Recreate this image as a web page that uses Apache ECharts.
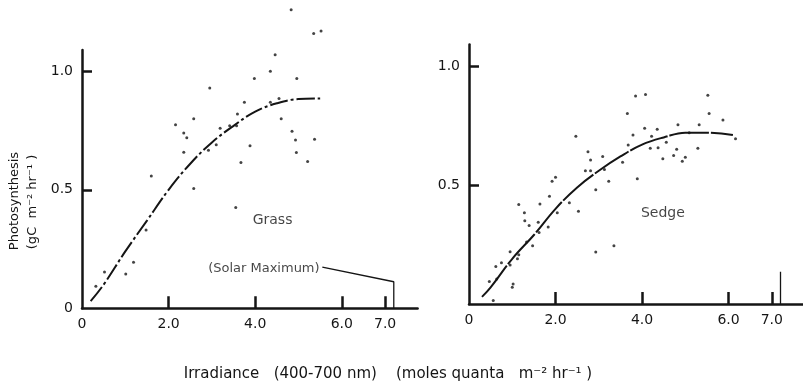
<!DOCTYPE html>
<html>
<head>
<meta charset="utf-8">
<script src="https://cdn.jsdelivr.net/npm/echarts@6/dist/echarts.min.js"></script>
<style>
  html, body { margin: 0; background: #fff; }
  #chart { width: 803px; height: 385px; }
</style>
</head>
<body>
<div id="chart"></div>
<script>
// tick labels
const xLabelValues = [0, 2, 4, 6, 7]
const xTickValues = [2, 4, 6, 7]
const grassYLabels = [0, 0.5, 1.0]
const sedgeYLabels = [0.5, 1.0]
const yTickValues = [0.5, 1.0]
const solarMax = 7.2

// fitted curves
const grassCurve = [
  [0.2, 0.03], [0.5, 0.10], [1.0, 0.24], [1.5, 0.37], [2.0, 0.50], [2.5, 0.61],
  [3.0, 0.70], [3.5, 0.77], [4.0, 0.83], [4.5, 0.865], [5.0, 0.883], [5.5, 0.885]
]
const sedgeCurve = [
  [0.3, 0.03], [0.5, 0.07], [1.0, 0.19], [1.5, 0.29], [2.0, 0.40], [2.5, 0.49],
  [3.0, 0.56], [3.5, 0.62], [4.0, 0.67], [4.5, 0.70], [5.0, 0.72], [5.5, 0.72], [6.1, 0.71]
]

// observations
const grassPoints = [
  [4.83, 1.26], [5.35, 1.16], [5.52, 1.17], [4.46, 1.07], [4.35, 1.00], [3.98, 0.97],
  [4.96, 0.97], [2.95, 0.93], [3.75, 0.87], [4.35, 0.87], [4.55, 0.885], [2.58, 0.80],
  [3.59, 0.82], [4.60, 0.80], [2.16, 0.775], [3.19, 0.76], [3.41, 0.77], [3.57, 0.77],
  [2.35, 0.74], [2.42, 0.72], [4.85, 0.747], [4.93, 0.71], [5.37, 0.713], [3.10, 0.69],
  [3.88, 0.686], [2.92, 0.667], [2.35, 0.658], [4.95, 0.657], [3.67, 0.615], [5.21, 0.619],
  [1.60, 0.558], [2.58, 0.506], [3.55, 0.425], [1.48, 0.33], [1.19, 0.194], [1.01, 0.145],
  [0.52, 0.153], [0.32, 0.093]
]
const sedgePoints = [
  [3.85, 0.874], [4.08, 0.88], [5.52, 0.877], [3.66, 0.80], [5.55, 0.80], [5.87, 0.773],
  [2.47, 0.705], [4.06, 0.738], [4.35, 0.734], [4.83, 0.753], [5.32, 0.753], [3.79, 0.71],
  [4.22, 0.705], [5.09, 0.72], [3.68, 0.668], [4.19, 0.654], [4.37, 0.657], [4.56, 0.68],
  [4.80, 0.65], [5.29, 0.654], [6.16, 0.694], [2.75, 0.64], [2.81, 0.605], [3.09, 0.62],
  [3.55, 0.596], [4.48, 0.61], [4.73, 0.624], [4.93, 0.60], [5.00, 0.617], [2.69, 0.56],
  [2.81, 0.56], [3.13, 0.565], [2.93, 0.48], [3.23, 0.516], [3.89, 0.526], [2.53, 0.39],
  [2.32, 0.425], [1.92, 0.516], [2.00, 0.533], [1.86, 0.453], [2.04, 0.383], [1.15, 0.418],
  [1.28, 0.383], [1.29, 0.35], [1.39, 0.33], [1.64, 0.42], [1.60, 0.344], [1.62, 0.30],
  [1.83, 0.324], [1.33, 0.26], [1.47, 0.245], [1.15, 0.207], [0.95, 0.22], [1.12, 0.19],
  [0.95, 0.164], [0.75, 0.173], [0.62, 0.158], [0.64, 0.105], [1.02, 0.084], [1.00, 0.07],
  [0.47, 0.095], [0.56, 0.015], [2.93, 0.219], [3.35, 0.245]
]

// solar maximum marker
const grassSolarLine = [[5.55, 0.174], [solarMax, 0.112], [solarMax, 0]]
const sedgeSolarLine = [[solarMax, 0.135], [solarMax, 0]]
const grassNotes = [[4.4, 0.37, 'Grass'], [4.2, 0.168, '(Solar Maximum)']]
const sedgeNotes = [[4.48, 0.38, 'Sedge']]

const FONT = 'DejaVu Sans'
const INK = '#151515'

function xAxis(gridIndex, max) {
  return {
    type: 'value', gridIndex, min: 0, max,
    splitLine: { show: false },
    axisLine: { onZero: false, lineStyle: { color: INK, width: 2.5 } },
    axisTick: { inside: true, length: 12, customValues: xTickValues, lineStyle: { color: INK, width: 2.5 } },
    axisLabel: {
      customValues: xLabelValues, margin: 9, color: INK, fontFamily: FONT, fontSize: 14,
      formatter: v => v === 0 ? '0' : v.toFixed(1)
    }
  }
}

function yAxis(gridIndex, labels) {
  return {
    type: 'value', gridIndex, min: 0, max: 1.09,
    splitLine: { show: false },
    axisLine: { onZero: false, lineStyle: { color: INK, width: 2.5 } },
    axisTick: { inside: true, length: 10, customValues: yTickValues, lineStyle: { color: INK, width: 2.5 } },
    axisLabel: {
      customValues: labels, margin: 9, color: INK, fontFamily: FONT, fontSize: 14,
      formatter: v => v === 0 ? '0' : v.toFixed(1)
    }
  }
}

function curve(i, data, dash) {
  return {
    type: 'line', xAxisIndex: i, yAxisIndex: i, data, smooth: 0.4,
    symbol: 'none', silent: true,
    lineStyle: { color: INK, width: 2, type: dash }
  }
}

function dots(i, data) {
  return {
    type: 'scatter', xAxisIndex: i, yAxisIndex: i, data, clip: false,
    symbolSize: 3, itemStyle: { color: INK }, silent: true
  }
}

function notes(i, data, size) {
  return {
    type: 'scatter', xAxisIndex: i, yAxisIndex: i, data, symbolSize: 0, silent: true,
    label: {
      show: true, position: 'inside', formatter: p => p.data[2],
      color: INK, fontFamily: FONT, fontSize: size
    }
  }
}

function plainLine(i, data) {
  return {
    type: 'line', xAxisIndex: i, yAxisIndex: i, data, symbol: 'none', silent: true,
    lineStyle: { color: INK, width: 1.3 }
  }
}

const chart = echarts.init(document.getElementById('chart'))
chart.setOption({
  backgroundColor: '#fff',
  animation: false,
  grid: [
    { left: 82, top: 50, width: 335.6, height: 258.3, outerBoundsMode: 'none' },
    { left: 469, top: 44.6, width: 334, height: 259.4, outerBoundsMode: 'none' }
  ],
  xAxis: [xAxis(0, 7.75), xAxis(1, 7.72)],
  yAxis: [yAxis(0, grassYLabels), yAxis(1, sedgeYLabels)],
  graphic: [
    {
      type: 'text', x: 15, y: 201, rotation: Math.PI / 2,
      style: { text: 'Photosynthesis', fill: INK, font: '13px "DejaVu Sans"', align: 'center', verticalAlign: 'middle' }
    },
    {
      type: 'text', x: 33, y: 202, rotation: Math.PI / 2,
      style: { text: '(gC  m⁻² hr⁻¹ )', fill: INK, font: '13px "DejaVu Sans"', align: 'center', verticalAlign: 'middle' }
    },
    {
      type: 'text', x: 388, y: 374,
      style: { text: 'Irradiance   (400-700 nm)    (moles quanta   m⁻² hr⁻¹ )', fill: INK, font: '15px "DejaVu Sans"', align: 'center', verticalAlign: 'middle' }
    }
  ],
  series: [
    dots(0, grassPoints),
    curve(0, grassCurve, [18, 3, 3, 3]),
    plainLine(0, grassSolarLine),
    notes(0, [grassNotes[0]], 14),
    notes(0, [grassNotes[1]], 13),
    dots(1, sedgePoints),
    curve(1, sedgeCurve, [40, 2]),
    plainLine(1, sedgeSolarLine),
    notes(1, sedgeNotes, 14)
  ]
})
</script>
</body>
</html>
